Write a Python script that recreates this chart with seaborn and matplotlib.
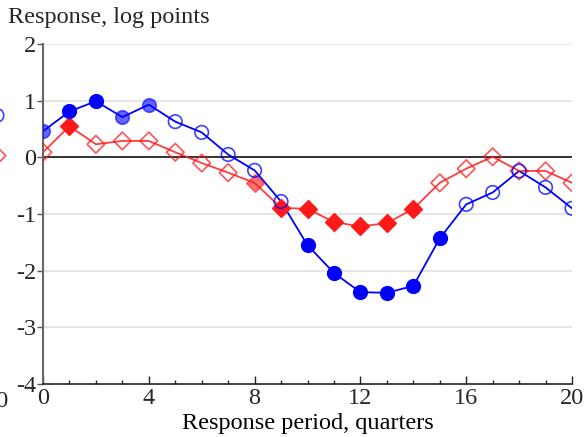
import numpy as np
import pandas as pd
import matplotlib
matplotlib.use("Agg")
import matplotlib.pyplot as plt
import seaborn as sns

# ---- data ----
quarters = list(range(21))
blue_vals = [0.46, 0.81, 0.99, 0.71, 0.93, 0.63, 0.44, 0.05, -0.23, -0.78,
             -1.55, -2.04, -2.38, -2.39, -2.27, -1.43, -0.83, -0.62, -0.24, -0.53, -0.90]
red_vals = [0.09, 0.55, 0.23, 0.29, 0.29, 0.09, -0.10, -0.27, -0.45, -0.89,
            -0.91, -1.14, -1.22, -1.16, -0.91, -0.45, -0.20, 0.01, -0.24, -0.24, -0.45]
blue_fill = ['semi', 'full', 'full', 'semi', 'semi', 'open', 'open', 'open', 'open', 'open',
             'full', 'full', 'full', 'full', 'full', 'full', 'open', 'open', 'open', 'open', 'open']
red_fill = ['open', 'full', 'open', 'open', 'open', 'open', 'open', 'open', 'semi', 'full',
            'full', 'full', 'full', 'full', 'full', 'open', 'open', 'open', 'open', 'open', 'open']
# last point of the neighbouring (cropped) panel on the left
prev_x = [20]
prev_blue = [0.74]
prev_red = [0.03]

y_ticks = [2, 1, 0, -1, -2, -3, -4]
x_ticks = [0, 4, 8, 12, 16, 20]

df = pd.DataFrame({"q": quarters, "blue": blue_vals, "red": red_vals,
                   "bfill": blue_fill, "rfill": red_fill})

sns.set_theme(style="white")
plt.rcParams['font.family'] = ['Liberation Serif', 'DejaVu Serif']

FS = 17.5
W, H = 586, 437
fig = plt.figure(figsize=(W / 100, H / 100), dpi=100)
L, R, T, B = 43, 572, 44, 384
ax = fig.add_axes([L / W, 1 - B / H, (R - L) / W, (B - T) / H])

BLUE = "#0000ff"
RED = "#ff1a1a"

for y in [2, 1, -1, -2, -3]:
    ax.axhline(y, color="#e3e3e3", lw=1.3, zorder=0)
ax.axhline(0, color="#333333", lw=1.4, zorder=1)

sns.lineplot(data=df, x="q", y="blue", ax=ax, color=BLUE, lw=1.3, zorder=2)
sns.lineplot(data=df, x="q", y="red", ax=ax, color=RED, lw=1.3, alpha=0.85, zorder=2)


def scatter_group(axis, data, ycol, fcol, marker, color, size):
    for kind in ['open', 'semi', 'full']:
        sub = data[data[fcol] == kind]
        if sub.empty:
            continue
        if kind == 'full':
            kw = dict(color=color, edgecolor=color, alpha=1.0)
        elif kind == 'semi':
            kw = dict(color=color, edgecolor=color, alpha=0.6)
        else:
            kw = dict(facecolor="none", edgecolor=color, alpha=0.75)
        sns.scatterplot(data=sub, x="q", y=ycol, ax=axis, marker=marker, s=size,
                        linewidth=1.2, zorder=3, legend=False, **kw)


scatter_group(ax, df, "red", "rfill", "D", RED, 80)
scatter_group(ax, df, "blue", "bfill", "o", BLUE, 95)

ax.set_xlim(0, 20)
ax.set_ylim(-4, 2)
ax.set_xticks(x_ticks)
ax.set_xticks(quarters, minor=True)
ax.set_yticks(y_ticks)
ax.set_yticklabels([str(t) for t in y_ticks])
ax.set_xticklabels([str(t) for t in x_ticks])
ax.tick_params(axis="x", which="major", direction="in", length=6, width=1,
               color="#222222", labelsize=FS, pad=3, bottom=True)
ax.tick_params(axis="x", which="minor", direction="in", length=3, width=1,
               color="#222222", bottom=True)
ax.tick_params(axis="y", which="major", direction="out", length=4, width=1,
               color="#555555", labelsize=FS, pad=1, left=True)
for s in ["top", "right"]:
    ax.spines[s].set_visible(False)
ax.spines["left"].set_color("#666666")
ax.spines["left"].set_linewidth(1.5)
ax.spines["bottom"].set_color("#222222")
ax.spines["bottom"].set_linewidth(1.2)
ax.set_xlabel("Response period, quarters", fontsize=FS, labelpad=3, color="black")
ax.set_ylabel("")
fig.text(8 / W, 1 - 17 / H, "Response, log points", fontsize=FS, va="center", ha="left")

# neighbouring panel (cropped at the left edge of the figure)
pw = (R - L) / W
ax0 = fig.add_axes([(-3 / W) - pw, 1 - B / H, pw, (B - T) / H])
ax0.set_xlim(0, 20)
ax0.set_ylim(-4, 2)
ax0.axis("off")
ax0.scatter(prev_x, prev_blue, marker="o", s=95, facecolor="none", edgecolor=BLUE,
            alpha=0.75, linewidth=1.2, clip_on=False)
ax0.scatter(prev_x, prev_red, marker="D", s=80, facecolor="none", edgecolor=RED,
            alpha=0.75, linewidth=1.2, clip_on=False)
ax0.text(20, -4.12, "20", fontsize=FS, ha="center", va="top")

fig.savefig("out.png", dpi=100)
